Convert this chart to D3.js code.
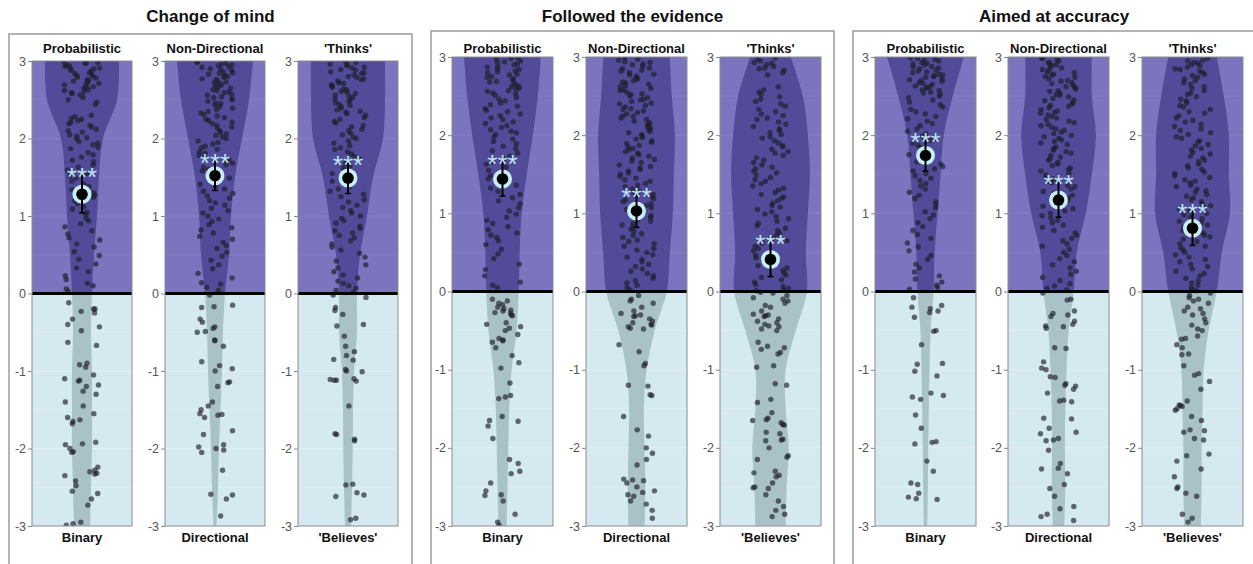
<!DOCTYPE html>
<html><head><meta charset="utf-8">
<script src="https://cdn.jsdelivr.net/npm/d3@7"></script>
<style>body{margin:0;background:#fff}svg{display:block;font-family:"Liberation Sans",Arial,sans-serif}</style>
</head><body>
<script>
// ---------- DATA ----------
const groupTitles = ["Change of mind", "Followed the evidence", "Aimed at accuracy"];
const topLabels = ["Probabilistic", "Non-Directional", "'Thinks'"];
const bottomLabels = ["Binary", "Directional", "'Believes'"];
const yTicks = [-3, -2, -1, 0, 1, 2, 3];
const sigLabel = "***";

// mean and 95% CI per group (rows) and contrast (columns)
const means  = [[1.28, 1.52, 1.49], [1.44, 1.03, 0.41], [1.74, 1.17, 0.81]];
const ciLow  = [[1.04, 1.33, 1.29], [1.22, 0.82, 0.19], [1.54, 0.95, 0.59]];
const ciHigh = [[1.53, 1.71, 1.68], [1.66, 1.24, 0.63], [1.94, 1.40, 1.03]];

// violin half-widths (relative density) at these levels
const violinLevels = [3, 2.5, 2, 1.5, 1, 0.5, 0, -0.5, -1, -1.5, -2, -2.5, -3];
const violinChangeProb    = [37, 35, 21, 17, 15, 12, 10, 9, 10, 10, 10, 9, 8];
const violinChangeNonDir  = [38, 34, 27, 20, 16, 14, 10, 8, 7, 5.5, 4, 3, 1.5];
const violinChangeThinks  = [37, 37, 35, 25, 19, 12, 9, 9, 6, 5, 4.7, 4, 3];
const violinEvidProb      = [38, 35, 30, 24, 19, 17, 16, 14, 9, 6.7, 5.7, 5, 4];
const violinEvidNonDir    = [33, 35, 38, 37, 36, 33, 30, 18, 10, 7.3, 8, 8.7, 8];
const violinEvidThinks    = [20, 32, 37, 39, 37, 35, 36, 25, 15, 15, 18, 16, 15];
const violinAccProb       = [38, 27, 18, 15, 12, 9, 8, 5, 4, 3.3, 2.7, 2.3, 1.7];
const violinAccNonDir     = [33, 33, 37, 33, 27, 18, 15, 10, 8, 6.7, 6.3, 6.7, 5.7];
const violinAccThinks     = [24, 31, 36, 36, 37, 29, 24, 16, 11, 10, 9, 9, 8.3];

// individual participant scores
const scoresChangeProb = [2.99,2.98,2.97,2.97,2.95,2.94,2.93,2.91,2.9,2.9,2.88,2.87,2.85,2.84,2.83,2.81,2.8,2.79,2.78,2.76,2.75,2.74,2.73,2.71,2.7,2.69,2.67,2.66,2.65,2.63,2.62,2.6,2.59,2.58,2.56,2.53,2.5,2.47,2.44,2.3,2.28,2.26,2.25,2.23,2.21,2.19,2.17,2.15,2.12,2.1,2.08,2.05,2.03,2.01,1.99,1.96,1.94,1.92,1.89,1.87,1.82,1.79,1.76,1.72,1.7,1.66,1.63,1.59,1.55,1.52,1.49,1.45,1.41,1.38,1.34,1.3,1.27,1.24,1.2,1.16,1.12,1.09,1.05,1.02,0.97,0.94,0.9,0.86,0.81,0.77,0.72,0.69,0.64,0.6,0.54,0.49,0.44,0.38,0.33,0.28,0.23,0.18,0.13,0.1,0.06,0.03,
  -0.12,-0.2,-0.2,-0.23,-0.25,-0.33,-0.4,-0.43,-0.48,-0.63,-0.67,-0.9,-0.92,-0.95,-1.05,-1.1,-1.12,-1.13,-1.18,-1.2,-1.26,-1.3,-1.4,-1.45,-1.55,-1.6,-1.63,-1.65,-1.68,-1.92,-1.94,-1.95,-2.0,-2.04,-2.05,-2.24,-2.28,-2.3,-2.32,-2.33,-2.35,-2.42,-2.48,-2.55,-2.58,-2.65,-2.73,-2.95,-2.97,-2.99];
const scoresChangeNonDir = [2.99,2.98,2.97,2.96,2.95,2.94,2.93,2.92,2.9,2.89,2.88,2.86,2.85,2.84,2.83,2.81,2.8,2.79,2.77,2.76,2.75,2.73,2.72,2.71,2.69,2.68,2.66,2.65,2.63,2.62,2.6,2.59,2.57,2.56,2.54,2.53,2.51,2.5,2.48,2.46,2.45,2.43,2.41,2.39,2.37,2.35,2.33,2.31,2.29,2.27,2.25,2.23,2.21,2.19,2.17,2.15,2.13,2.1,2.08,2.06,2.04,2.02,2.0,1.97,1.95,1.93,1.9,1.88,1.86,1.83,1.81,1.78,1.76,1.73,1.71,1.68,1.66,1.63,1.6,1.58,1.55,1.52,1.49,1.47,1.44,1.41,1.38,1.35,1.32,1.29,1.26,1.23,1.2,1.17,1.14,1.1,1.07,1.04,1.0,0.96,0.93,0.89,0.85,0.82,0.78,0.74,0.7,0.66,0.62,0.58,0.53,0.48,0.43,0.37,0.32,0.26,0.2,0.14,0.12,0.08,0.04,
  -0.02,-0.15,-0.17,-0.18,-0.33,-0.37,-0.43,-0.45,-0.49,-0.5,-0.6,-0.61,-0.68,-0.88,-0.93,-0.97,-1.0,-1.14,-1.15,-1.2,-1.4,-1.45,-1.5,-1.55,-1.56,-1.57,-1.6,-1.77,-1.82,-1.95,-1.98,-2.0,-2.02,-2.05,-2.28,-2.59,-2.6,-2.65,-2.87];
const scoresChangeThinks = [2.99,2.98,2.96,2.95,2.94,2.92,2.91,2.89,2.88,2.86,2.85,2.84,2.82,2.8,2.79,2.77,2.76,2.74,2.72,2.71,2.69,2.68,2.66,2.64,2.63,2.61,2.6,2.58,2.56,2.55,2.53,2.51,2.5,2.48,2.46,2.44,2.43,2.41,2.39,2.37,2.35,2.34,2.32,2.3,2.27,2.25,2.22,2.2,2.17,2.15,2.12,2.1,2.07,2.05,2.02,2.0,1.97,1.94,1.91,1.88,1.86,1.83,1.8,1.77,1.74,1.71,1.68,1.65,1.62,1.58,1.55,1.52,1.49,1.45,1.42,1.38,1.35,1.32,1.28,1.25,1.21,1.18,1.14,1.11,1.07,1.04,1.0,0.97,0.94,0.91,0.87,0.84,0.81,0.78,0.75,0.72,0.68,0.64,0.6,0.56,0.52,0.47,0.42,0.37,0.33,0.28,0.24,0.2,0.16,0.13,0.1,0.07,0.04,0.02,
  -0.02,-0.05,-0.18,-0.22,-0.27,-0.4,-0.42,-0.55,-0.68,-0.75,-0.8,-0.85,-0.86,-0.98,-1.0,-1.01,-1.1,-1.11,-1.12,-1.13,-1.12,-1.45,-1.81,-1.82,-1.88,-1.9,-2.46,-2.47,-2.57,-2.6,-2.62,-2.9,-2.92];
const scoresEvidProb = [2.99,2.98,2.97,2.95,2.94,2.93,2.91,2.9,2.88,2.87,2.85,2.84,2.82,2.81,2.8,2.78,2.77,2.75,2.74,2.72,2.71,2.69,2.68,2.66,2.65,2.63,2.62,2.6,2.59,2.57,2.56,2.54,2.53,2.51,2.48,2.46,2.44,2.41,2.39,2.37,2.34,2.32,2.3,2.27,2.25,2.22,2.2,2.17,2.15,2.12,2.1,2.07,2.05,2.03,2.01,1.98,1.95,1.92,1.89,1.86,1.83,1.8,1.77,1.73,1.7,1.66,1.63,1.59,1.55,1.52,1.48,1.44,1.4,1.36,1.32,1.28,1.24,1.2,1.16,1.12,1.07,1.03,0.99,0.95,0.91,0.87,0.83,0.79,0.75,0.72,0.69,0.65,0.6,0.54,0.48,0.42,0.35,0.28,0.2,0.12,0.08,0.05,
  -0.1,-0.12,-0.15,-0.17,-0.2,-0.22,-0.24,-0.25,-0.27,-0.28,-0.3,-0.31,-0.4,-0.42,-0.45,-0.47,-0.5,-0.55,-0.6,-0.62,-0.63,-0.65,-0.72,-0.82,-0.91,-0.98,-1.17,-1.33,-1.35,-1.37,-1.6,-1.65,-1.66,-1.72,-1.88,-2.15,-2.2,-2.3,-2.33,-2.45,-2.55,-2.6,-2.61,-2.68,-2.85,-2.95,-2.99];
const scoresEvidNonDir = [2.99,2.97,2.96,2.94,2.93,2.91,2.9,2.88,2.86,2.85,2.83,2.82,2.8,2.78,2.77,2.75,2.73,2.72,2.7,2.68,2.67,2.65,2.63,2.62,2.6,2.58,2.57,2.55,2.53,2.52,2.5,2.48,2.46,2.45,2.43,2.41,2.4,2.38,2.36,2.34,2.33,2.31,2.29,2.27,2.25,2.24,2.22,2.2,2.18,2.16,2.14,2.12,2.11,2.09,2.07,2.05,2.03,2.01,1.99,1.97,1.95,1.93,1.91,1.89,1.87,1.85,1.83,1.81,1.79,1.77,1.75,1.73,1.71,1.69,1.67,1.65,1.62,1.6,1.58,1.56,1.54,1.52,1.5,1.47,1.45,1.43,1.41,1.38,1.36,1.34,1.31,1.29,1.27,1.24,1.22,1.19,1.17,1.15,1.12,1.1,1.07,1.05,1.02,1.0,0.97,0.95,0.92,0.9,0.87,0.85,0.82,0.8,0.77,0.74,0.72,0.69,0.66,0.64,0.61,0.58,0.55,0.53,0.5,0.47,0.44,0.41,0.38,0.35,0.32,0.29,0.26,0.23,0.2,0.17,0.14,0.11,0.08,0.05,0.02,
  -0.05,-0.1,-0.12,-0.15,-0.2,-0.25,-0.28,-0.3,-0.31,-0.32,-0.35,-0.38,-0.4,-0.42,-0.43,-0.45,-0.47,-0.48,-0.68,-0.77,-0.92,-0.95,-1.2,-1.21,-1.32,-1.33,-1.6,-1.77,-1.85,-2.0,-2.07,-2.15,-2.22,-2.4,-2.41,-2.42,-2.45,-2.5,-2.55,-2.57,-2.6,-2.62,-2.68,-2.72,-2.8,-2.9];
const scoresEvidThinks = [2.99,2.97,2.95,2.93,2.92,2.9,2.88,2.86,2.85,2.83,2.8,2.77,2.62,2.58,2.55,2.52,2.49,2.46,2.43,2.4,2.37,2.33,2.3,2.27,2.25,2.22,2.2,2.17,2.14,2.11,2.08,2.06,2.03,2.01,1.98,1.96,1.93,1.9,1.87,1.85,1.82,1.79,1.77,1.74,1.71,1.68,1.65,1.62,1.59,1.57,1.54,1.52,1.49,1.46,1.43,1.41,1.38,1.35,1.32,1.3,1.27,1.24,1.21,1.19,1.16,1.13,1.1,1.08,1.05,1.02,0.99,0.96,0.93,0.9,0.87,0.84,0.81,0.78,0.75,0.72,0.68,0.65,0.62,0.58,0.55,0.52,0.49,0.46,0.43,0.4,0.37,0.33,0.3,0.27,0.24,0.21,0.18,0.15,0.12,0.09,0.06,0.04,0.02,0.01,
  -0.01,-0.02,-0.05,-0.08,-0.1,-0.12,-0.15,-0.18,-0.2,-0.25,-0.29,-0.3,-0.31,-0.32,-0.35,-0.38,-0.4,-0.42,-0.44,-0.45,-0.48,-0.5,-0.65,-0.7,-0.72,-0.74,-0.78,-0.8,-0.95,-0.97,-1.18,-1.2,-1.38,-1.42,-1.55,-1.62,-1.64,-1.65,-1.68,-1.7,-1.71,-1.8,-1.82,-1.89,-1.9,-1.91,-2.0,-2.1,-2.12,-2.15,-2.3,-2.32,-2.35,-2.37,-2.45,-2.5,-2.51,-2.52,-2.6,-2.68,-2.75,-2.8,-2.85,-2.88];
const scoresAccProb = [2.99,2.98,2.97,2.96,2.95,2.93,2.92,2.91,2.9,2.88,2.87,2.86,2.85,2.83,2.82,2.81,2.8,2.78,2.77,2.76,2.75,2.74,2.72,2.71,2.7,2.69,2.67,2.66,2.65,2.63,2.62,2.61,2.6,2.58,2.57,2.55,2.54,2.52,2.5,2.48,2.45,2.42,2.39,2.36,2.33,2.3,2.27,2.24,2.21,2.18,2.15,2.12,2.08,2.05,2.02,1.99,1.96,1.93,1.9,1.87,1.84,1.81,1.78,1.75,1.72,1.69,1.66,1.63,1.6,1.57,1.54,1.51,1.48,1.45,1.42,1.38,1.35,1.31,1.27,1.23,1.19,1.15,1.11,1.07,1.02,0.98,0.93,0.88,0.83,0.78,0.73,0.68,0.62,0.57,0.52,0.46,0.41,0.35,0.3,0.25,0.2,0.16,0.12,0.08,0.05,0.03,
  -0.08,-0.18,-0.2,-0.22,-0.25,-0.27,-0.33,-0.5,-0.51,-0.68,-0.92,-0.93,-1.02,-1.08,-1.3,-1.33,-1.35,-1.38,-1.58,-1.75,-1.92,-1.93,-1.95,-2.17,-2.3,-2.45,-2.47,-2.58,-2.63,-2.65,-2.66];
const scoresAccNonDir = [2.99,2.98,2.96,2.95,2.93,2.92,2.9,2.89,2.87,2.86,2.84,2.83,2.81,2.8,2.78,2.77,2.75,2.74,2.72,2.7,2.69,2.67,2.66,2.64,2.62,2.61,2.59,2.57,2.56,2.54,2.52,2.51,2.49,2.47,2.45,2.44,2.42,2.4,2.38,2.37,2.35,2.33,2.31,2.29,2.28,2.26,2.24,2.22,2.2,2.18,2.16,2.14,2.12,2.1,2.08,2.06,2.04,2.02,2.0,1.98,1.96,1.94,1.92,1.9,1.88,1.85,1.83,1.81,1.79,1.77,1.74,1.72,1.7,1.68,1.65,1.63,1.61,1.58,1.56,1.54,1.51,1.49,1.46,1.44,1.41,1.39,1.36,1.34,1.31,1.28,1.26,1.23,1.2,1.17,1.15,1.12,1.09,1.06,1.03,1.0,0.97,0.94,0.91,0.88,0.85,0.82,0.78,0.75,0.72,0.68,0.65,0.61,0.58,0.54,0.5,0.46,0.42,0.38,0.34,0.3,0.26,0.22,0.18,0.14,0.1,0.07,0.04,0.02,
  -0.02,-0.1,-0.11,-0.25,-0.28,-0.3,-0.32,-0.38,-0.42,-0.44,-0.45,-0.47,-0.72,-0.73,-0.9,-0.98,-1.0,-1.09,-1.1,-1.18,-1.2,-1.21,-1.25,-1.3,-1.39,-1.4,-1.41,-1.62,-1.63,-1.75,-1.8,-1.82,-1.88,-1.9,-1.91,-2.03,-2.2,-2.26,-2.27,-2.33,-2.47,-2.52,-2.62,-2.75,-2.78,-2.85,-2.88,-2.93];
const scoresAccThinks = [2.98,2.96,2.95,2.93,2.92,2.9,2.89,2.87,2.85,2.84,2.82,2.8,2.78,2.76,2.74,2.72,2.7,2.67,2.65,2.62,2.6,2.57,2.54,2.52,2.49,2.46,2.44,2.41,2.38,2.36,2.33,2.3,2.28,2.25,2.22,2.19,2.17,2.14,2.11,2.08,2.06,2.03,2.01,1.98,1.96,1.93,1.91,1.88,1.86,1.83,1.81,1.78,1.76,1.73,1.71,1.68,1.66,1.63,1.61,1.58,1.56,1.53,1.51,1.48,1.46,1.43,1.41,1.39,1.36,1.34,1.31,1.29,1.27,1.24,1.22,1.2,1.17,1.15,1.12,1.1,1.08,1.05,1.03,1.0,0.98,0.95,0.93,0.9,0.88,0.85,0.83,0.8,0.78,0.75,0.72,0.7,0.67,0.64,0.61,0.58,0.56,0.53,0.5,0.47,0.44,0.41,0.38,0.35,0.32,0.29,0.26,0.23,0.2,0.17,0.14,0.11,0.08,0.05,0.03,0.01,
  -0.02,-0.05,-0.08,-0.1,-0.12,-0.15,-0.2,-0.22,-0.25,-0.28,-0.3,-0.35,-0.4,-0.43,-0.48,-0.5,-0.57,-0.6,-0.61,-0.68,-0.72,-0.8,-0.81,-0.95,-1.05,-1.07,-1.15,-1.25,-1.4,-1.45,-1.46,-1.47,-1.5,-1.52,-1.6,-1.65,-1.77,-1.78,-1.8,-1.88,-1.9,-2.08,-2.1,-2.17,-2.27,-2.37,-2.5,-2.52,-2.58,-2.62,-2.85,-2.9,-2.95];

const scores = [[scoresChangeProb, scoresChangeNonDir, scoresChangeThinks],
                [scoresEvidProb, scoresEvidNonDir, scoresEvidThinks],
                [scoresAccProb, scoresAccNonDir, scoresAccThinks]];
const violins = [[violinChangeProb, violinChangeNonDir, violinChangeThinks],
                 [violinEvidProb, violinEvidNonDir, violinEvidThinks],
                 [violinAccProb, violinAccNonDir, violinAccThinks]];

// ---------- LAYOUT ----------
const W = 1253, H = 564;
const layout = [
  {box: [9, 34, 403], titleY: 22, yTop: 61, yBot: 526, px: [32, 165, 298], pw: 100},
  {box: [431, 31, 403], titleY: 22, yTop: 57, yBot: 526, px: [452, 586, 720], pw: 101},
  {box: [853, 31, 402], titleY: 22, yTop: 57, yBot: 526, px: [875, 1008, 1142], pw: 101}
];
const COL = {
  upBg: "#7b75bf", upViolin: "#514b9a", lowBg: "#d4e9f0", lowViolin: "#a9c2c8",
  point: "#1e1e2a", ring: "#c6eef4", star: "#bfe5f1", border: "#8c8c8c", tick: "#555555"
};

const svg = d3.select("body").append("svg").attr("width", W).attr("height", H);
const defs = svg.append("defs");

// deterministic jitter (layout only)
function jitter(i, k) {
  const s = Math.sin(i * 91.345 + k * 17.17) * 43758.5453;
  return s - Math.floor(s) - 0.5;
}

layout.forEach((L, g) => {
  const G = svg.append("g");
  G.append("rect").attr("x", L.box[0]).attr("y", L.box[1]).attr("width", L.box[2]).attr("height", H + 20)
    .attr("fill", "none").attr("stroke", "#9a9a9a").attr("stroke-width", 1.5);
  G.append("text").attr("x", L.box[0] + L.box[2] / 2).attr("y", L.titleY)
    .attr("text-anchor", "middle").attr("font-weight", "bold").attr("font-size", 17).attr("fill", "#111")
    .text(groupTitles[g]);

  const y = d3.scaleLinear().domain([-3, 3]).range([L.yBot, L.yTop]);

  L.px.forEach((px, p) => {
    const k = g * 3 + p;
    const x = d3.scaleLinear().domain([-0.5, 0.5]).range([px, px + L.pw]);
    const w = d3.scaleLinear().domain([0, 50]).range([0, L.pw / 2]);
    const cx = x(0);
    const P = G.append("g");

    const idU = "cu" + k, idL = "cl" + k, idA = "ca" + k;
    defs.append("clipPath").attr("id", idU).append("rect")
      .attr("x", px).attr("y", y(3)).attr("width", L.pw).attr("height", y(0) - y(3));
    defs.append("clipPath").attr("id", idL).append("rect")
      .attr("x", px).attr("y", y(0)).attr("width", L.pw).attr("height", y(-3) - y(0));
    defs.append("clipPath").attr("id", idA).append("rect")
      .attr("x", px).attr("y", y(3)).attr("width", L.pw).attr("height", y(-3) - y(3));

    P.append("rect").attr("x", px).attr("y", y(3)).attr("width", L.pw).attr("height", y(0) - y(3)).attr("fill", COL.upBg);
    P.append("rect").attr("x", px).attr("y", y(0)).attr("width", L.pw).attr("height", y(-3) - y(0)).attr("fill", COL.lowBg);

    // faint grid
    P.selectAll("line.grid").data(d3.range(-2.5, 3, 0.5)).join("line").attr("class", "grid")
      .attr("x1", px).attr("x2", px + L.pw).attr("y1", d => y(d)).attr("y2", d => y(d))
      .attr("stroke", d => d < 0 ? "#ffffff" : "#9a95d0").attr("stroke-opacity", d => Number.isInteger(d) ? 0.45 : 0.3)
      .attr("stroke-width", 0.8);

    // violin
    const vd = violinLevels.map((lv, i) => ({lv, d: violins[g][p][i]}));
    const area = d3.area().curve(d3.curveCatmullRom)
      .y(d => y(d.lv)).x0(d => cx - w(d.d)).x1(d => cx + w(d.d));
    P.append("path").datum(vd).attr("d", area).attr("fill", COL.upViolin).attr("clip-path", `url(#${idU})`);
    P.append("path").datum(vd).attr("d", area).attr("fill", COL.lowViolin).attr("clip-path", `url(#${idL})`);

    // points
    P.append("g").attr("clip-path", `url(#${idA})`).selectAll("circle").data(scores[g][p]).join("circle")
      .attr("cx", (d, i) => x(jitter(i, k) * 0.36))
      .attr("cy", d => y(d)).attr("r", 2.7)
      .attr("fill", COL.point).attr("fill-opacity", 0.66);

    // zero line
    P.append("line").attr("x1", px).attr("x2", px + L.pw).attr("y1", y(0)).attr("y2", y(0))
      .attr("stroke", "#000").attr("stroke-width", 3);

    // mean with CI
    P.append("circle").attr("cx", cx).attr("cy", y(means[g][p])).attr("r", 9.5).attr("fill", COL.ring);
    P.append("line").attr("x1", cx).attr("x2", cx).attr("y1", y(ciHigh[g][p])).attr("y2", y(ciLow[g][p]))
      .attr("stroke", "#000").attr("stroke-width", 2);
    [ciHigh[g][p], ciLow[g][p]].forEach(v => {
      P.append("line").attr("x1", cx - 3).attr("x2", cx + 3).attr("y1", y(v)).attr("y2", y(v))
        .attr("stroke", "#000").attr("stroke-width", 1.5);
    });
    P.append("circle").attr("cx", cx).attr("cy", y(means[g][p])).attr("r", 5.8).attr("fill", "#000");
    P.append("text").attr("x", cx).attr("y", y(ciHigh[g][p]) + 11)
      .attr("text-anchor", "middle").attr("font-size", 26).attr("fill", COL.star).text(sigLabel);

    // border
    P.append("rect").attr("x", px).attr("y", y(3)).attr("width", L.pw).attr("height", y(-3) - y(3))
      .attr("fill", "none").attr("stroke", COL.border).attr("stroke-width", 1);

    // axis
    const ax = P.append("g").attr("transform", `translate(${px},0)`)
      .call(d3.axisLeft(y).tickValues(yTicks).tickFormat(d => String(d)).tickSize(4).tickPadding(2));
    ax.select(".domain").remove();
    ax.selectAll(".tick line").attr("stroke", "#888");
    ax.selectAll(".tick text").attr("fill", COL.tick).attr("font-size", 12.5)
      .attr("font-family", '"Liberation Sans",Arial,sans-serif');

    // labels
    P.append("text").attr("x", cx).attr("y", 53).attr("text-anchor", "middle")
      .attr("font-weight", "bold").attr("font-size", 13).attr("fill", "#111").text(topLabels[p]);
    P.append("text").attr("x", cx).attr("y", 542).attr("text-anchor", "middle")
      .attr("font-weight", "bold").attr("font-size", 13).attr("fill", "#111").text(bottomLabels[p]);
  });
});
</script>
</body></html>
